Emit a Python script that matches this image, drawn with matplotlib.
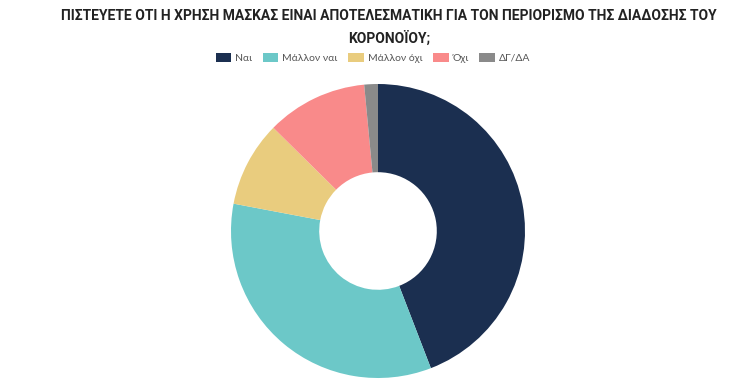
import matplotlib
matplotlib.use("Agg")
import matplotlib.pyplot as plt
from matplotlib.patches import Patch

labels = ["Ναι", "Μάλλον ναι", "Μάλλον όχι", "Όχι", "ΔΓ/ΔΑ"]
values = [44.1, 33.8, 9.4, 11.1, 1.5]
colors = ["#1b2f50", "#6cc8c8", "#e9cc7e", "#f98a8a", "#8a8a8a"]

title = ("ΠΙΣΤΕΥΕΤΕ ΟΤΙ Η ΧΡΗΣΗ ΜΑΣΚΑΣ ΕΙΝΑΙ ΑΠΟΤΕΛΕΣΜΑΤΙΚΗ ΓΙΑ ΤΟΝ ΠΕΡΙΟΡΙΣΜΟ ΤΗΣ ΔΙΑΔΟΣΗΣ ΤΟΥ\n"
         "ΚΟΡΟΝΟΪΟΥ;")

W, H = 734, 388
fig = plt.figure(figsize=(W / 100, H / 100), dpi=100)

# donut: centre (378, 231) px, radius 147 px
cx, cy, r = 378, 231, 147
ax = fig.add_axes([(cx - r) / W, (H - cy - r) / H, 2 * r / W, 2 * r / H])
ax.pie(values, colors=colors, startangle=90, counterclock=False,
       wedgeprops=dict(width=0.6, linewidth=0))
ax.set_xlim(-1, 1); ax.set_ylim(-1, 1)
ax.set_aspect("equal")

fig.text(389 / W, 1 - 9 / H, title, ha="center", va="top", fontsize=10,
         fontweight="bold", family="Roboto", color="#222222", linespacing=1.65)

handles = [Patch(facecolor=c, edgecolor="none") for c in colors]
fig.legend(handles, labels, loc="center", bbox_to_anchor=(373 / W, 1 - 58 / H),
           ncol=5, frameon=False, handlelength=1.5, handleheight=0.9,
           columnspacing=1.0, handletextpad=0.4, labelcolor="#555555",
           prop=dict(family="Lato", size=7.5))

fig.savefig("out.png", dpi=100)
